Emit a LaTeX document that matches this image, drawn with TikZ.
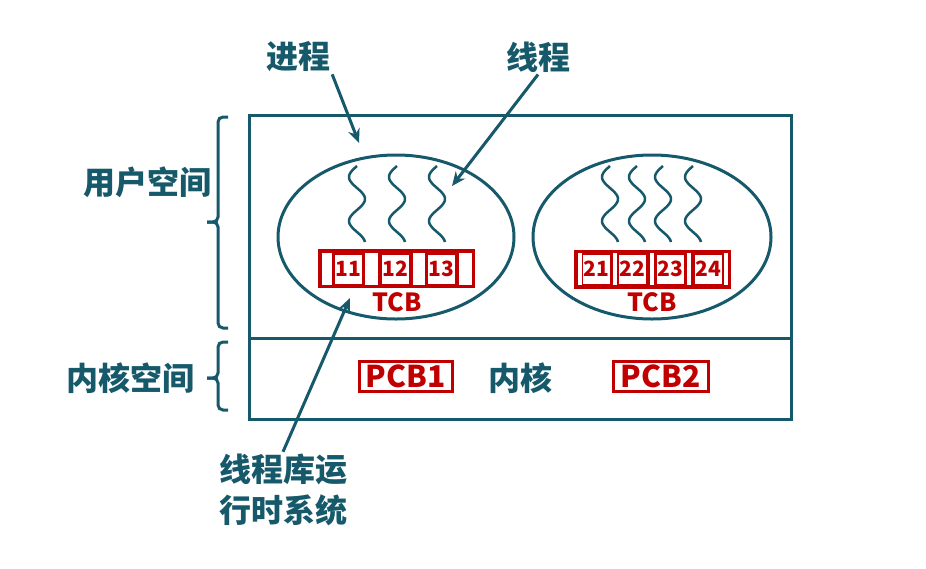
\documentclass[tikz,border=0pt]{standalone}
\usepackage{fontspec}
\setmainfont{Noto Sans CJK SC}
\usepackage{xcolor}
\usetikzlibrary{shapes,arrows.meta,positioning}
\definecolor{darkteal}{HTML}{16596A}
\definecolor{tcbred}{HTML}{C00000}

\begin{document}
\begin{tikzpicture}[x=1pt, y=-1pt, every node/.style={font=\bfseries, align=center},
  bigtext/.style={text=darkteal, font=\bfseries\fontsize{32}{41}\selectfont, inner sep=2pt},
  slot/.style={fill=white, minimum height=32, inner sep=0},
  numslot/.style={fill=white, minimum width=27, minimum height=29, inner sep=0, text=tcbred, font=\bfseries\fontsize{21}{21}\selectfont},
  pcbbox/.style={draw=tcbred, line width=3pt, minimum height=30, inner sep=0, text=tcbred, font=\bfseries\fontsize{30}{30}\selectfont},
  pointer/.style={darkteal, line width=3pt, -{Stealth[length=14pt, width=12pt]}}]
\useasboundingbox (0,0) rectangle (926,568);
% Frame
\node[draw=darkteal, line width=3pt, minimum width=542, minimum height=304, inner sep=0] (frame) at (520,267) {};
\draw[darkteal, line width=3pt] (frame.west |- 0,338) -- (frame.east |- 0,338);
% Braces
\draw[darkteal, line width=3pt, rounded corners=5pt] (228,117) -- (218,117) -- (218,222) -- (207,222);
\draw[darkteal, line width=3pt, rounded corners=5pt] (207,222) -- (218,222) -- (218,328) -- (228,328);
\draw[darkteal, line width=3pt, rounded corners=5pt] (228,342) -- (218,342) -- (218,378) -- (207,378);
\draw[darkteal, line width=3pt, rounded corners=5pt] (207,378) -- (218,378) -- (218,410) -- (228,410);
\node[bigtext] (user) at (147,182) {用户空间};
\node[bigtext] (kernel) at (130,378) {内核空间};
% Processes
\node[draw=darkteal, ellipse, line width=3pt, minimum width=236, minimum height=164] (proc1) at (396,237) {};
\node[draw=darkteal, ellipse, line width=3pt, minimum width=238, minimum height=164] (proc2) at (652,237) {};
% Threads
\foreach \x in {357,397,437,610,637,663,693}
  \draw[darkteal, line width=2.5pt] plot[variable=\t, domain=0:76, samples=60, smooth] ({\x-8*sin(8.18*\t)}, {\t+166});
% TCB 1
\node[fill=tcbred, minimum width=157, minimum height=39, inner sep=0] (tcb1) at (396.5,268.5) {};
\node[slot, minimum width=10] (s10) at (327,269) {};
\node[numslot] (t11) at (348.5,269) {11};
\node[slot, minimum width=13] (s11) at (371.5,269) {};
\node[numslot] (t12) at (395,269) {12};
\node[slot, minimum width=12] (s12) at (419,269) {};
\node[numslot] (t13) at (441.5,269) {13};
\node[slot, minimum width=13] (s13) at (465,269) {};
\node[text=tcbred, font=\bfseries\fontsize{25}{25}\selectfont, inner sep=0] (tcblabel1) at (397,302) {TCB};
% TCB 2
\node[fill=tcbred, minimum width=157, minimum height=39, inner sep=0] (tcb2) at (652.5,269) {};
\node[slot, minimum width=4] (s20) at (580,269) {};
\node[numslot] (t21) at (596.5,269) {21};
\node[slot, minimum width=4] (s21) at (614.5,269) {};
\node[numslot] (t22) at (632.5,269) {22};
\node[slot, minimum width=4] (s22) at (651.5,269) {};
\node[numslot] (t23) at (670,269) {23};
\node[slot, minimum width=4] (s23) at (689,269) {};
\node[numslot] (t24) at (708.5,269) {24};
\node[slot, minimum width=4] (s24) at (726,269) {};
\node[text=tcbred, font=\bfseries\fontsize{25}{25}\selectfont, inner sep=0] (tcblabel2) at (652,302) {TCB};
% Kernel
\node[pcbbox, minimum width=93] (pcb1) at (405.5,376) {PCB1};
\node[pcbbox, minimum width=95] (pcb2) at (660.5,376) {PCB2};
\node[bigtext] (core) at (520,378) {内核};
% Labels
\node[bigtext] (proc) at (298,57) {进程};
\node[bigtext] (thread) at (538,57) {线程};
\node[bigtext] (lib) at (283,490) {线程库运\\行时系统};
\coordinate (procend) at (359,143);
\coordinate (threadend) at (452,186);
\coordinate (libend) at (350,298);
% Arrows
\draw[pointer] (proc.south east) -- (procend);
\draw[pointer] (thread.south) -- (threadend);
\draw[pointer] (lib.north) -- (libend);
\end{tikzpicture}
\end{document}
